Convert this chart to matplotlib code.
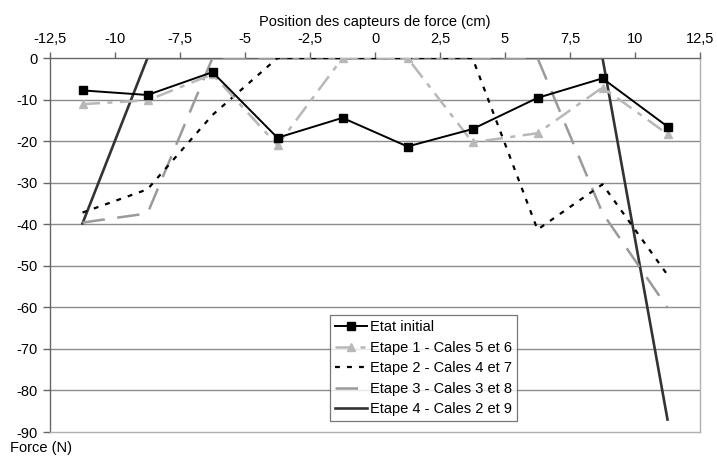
import matplotlib
matplotlib.use("Agg")
import matplotlib.pyplot as plt
from matplotlib.ticker import FixedLocator, FixedFormatter

plt.rcParams['font.family'] = ['Liberation Sans', 'DejaVu Sans']

positions = [-11.25, -8.75, -6.25, -3.75, -1.25, 1.25, 3.75, 6.25, 8.75, 11.25]
etat_initial = [-7.8, -8.9, -3.4, -19.2, -14.4, -21.3, -17.1, -9.6, -4.9, -16.5]
etape1 = [-11.1, -10.2, -3.9, -21.0, 0, 0, -20.3, -18.1, -7.1, -18.3]
etape2 = [-37.2, -31.6, -13.7, 0, 0, 0, 0, -41.3, -30.4, -52.2]
etape3 = [-39.6, -37.4, 0, 0, 0, 0, 0, 0, -37.3, -60.1]
etape4 = [-39.8, 0, 0, 0, 0, 0, 0, 0, 0, -87.0]

series_labels = ["Etat initial", "Etape 1 - Cales 5 et 6", "Etape 2 - Cales 4 et 7",
                 "Etape 3 - Cales 3 et 8", "Etape 4 - Cales 2 et 9"]

xticks = [-12.5, -10, -7.5, -5, -2.5, 0, 2.5, 5, 7.5, 10, 12.5]
xtick_labels = ["-12,5", "-10", "-7,5", "-5", "-2,5", "0", "2,5", "5", "7,5", "10", "12,5"]
yticks = [0, -10, -20, -30, -40, -50, -60, -70, -80, -90]
ytick_labels = ["0", "-10", "-20", "-30", "-40", "-50", "-60", "-70", "-80", "-90"]

FS = 10.5

fig = plt.figure(figsize=(7.17, 4.57), dpi=100)
ax = fig.add_axes([50/717, 1-432/457, 650/717, 374/457])

ax.set_xlim(-12.5, 12.5)
ax.set_ylim(-90, 0)

for yv in yticks[1:-1]:
    ax.axhline(yv, color='#8c8c8c', lw=1.0, zorder=1)

ax.plot(positions, etat_initial, color='black', lw=1.4, marker='s', ms=6,
        mfc='black', mec='black', label=series_labels[0], zorder=6)
ax.plot(positions, etape1, color='#b8b8b8', lw=1.8, dashes=(7, 3, 2, 3), marker='^', ms=6,
        mfc='#b8b8b8', mec='#b8b8b8', label=series_labels[1], zorder=5)
ax.plot(positions, etape2, color='black', lw=1.6, dashes=(2.2, 3.2),
        label=series_labels[2], zorder=4)
ax.plot(positions, etape3, color='#9a9a9a', lw=1.8, dashes=(9, 5),
        label=series_labels[3], zorder=3)
ax.plot(positions, etape4, color='#333333', lw=1.9, label=series_labels[4], zorder=2)

ax.xaxis.tick_top()
ax.xaxis.set_label_position('top')
ax.xaxis.set_major_locator(FixedLocator(xticks))
ax.xaxis.set_major_formatter(FixedFormatter(xtick_labels))
ax.yaxis.set_major_locator(FixedLocator(yticks))
ax.yaxis.set_major_formatter(FixedFormatter(ytick_labels))
ax.tick_params(axis='x', direction='out', length=4, width=1, color='#666666',
               labelsize=FS, pad=5)
ax.tick_params(axis='y', direction='out', length=5, width=1, color='#666666',
               labelsize=FS, pad=4)

ax.spines['top'].set_color('#666666')
ax.spines['left'].set_color('#666666')
ax.spines['right'].set_color('#b0b0b0')
ax.spines['bottom'].set_color('#b0b0b0')
for s in ax.spines.values():
    s.set_linewidth(1.0)

ax.set_xlabel("Position des capteurs de force (cm)", fontsize=FS, labelpad=4)
fig.text(10/717, 1-448/457, "Force (N)", fontsize=FS, ha='left', va='center')

leg = ax.legend(loc='upper left', bbox_to_anchor=((330-50)/650, (432-315)/374),
                fontsize=FS, frameon=True, fancybox=False, handlelength=2.2,
                handletextpad=0.2, borderpad=0.35, labelspacing=0.45, borderaxespad=0)
leg.get_frame().set_edgecolor('#555555')
leg.get_frame().set_linewidth(0.9)
leg.set_zorder(10)

fig.savefig("out.png", dpi=100)
